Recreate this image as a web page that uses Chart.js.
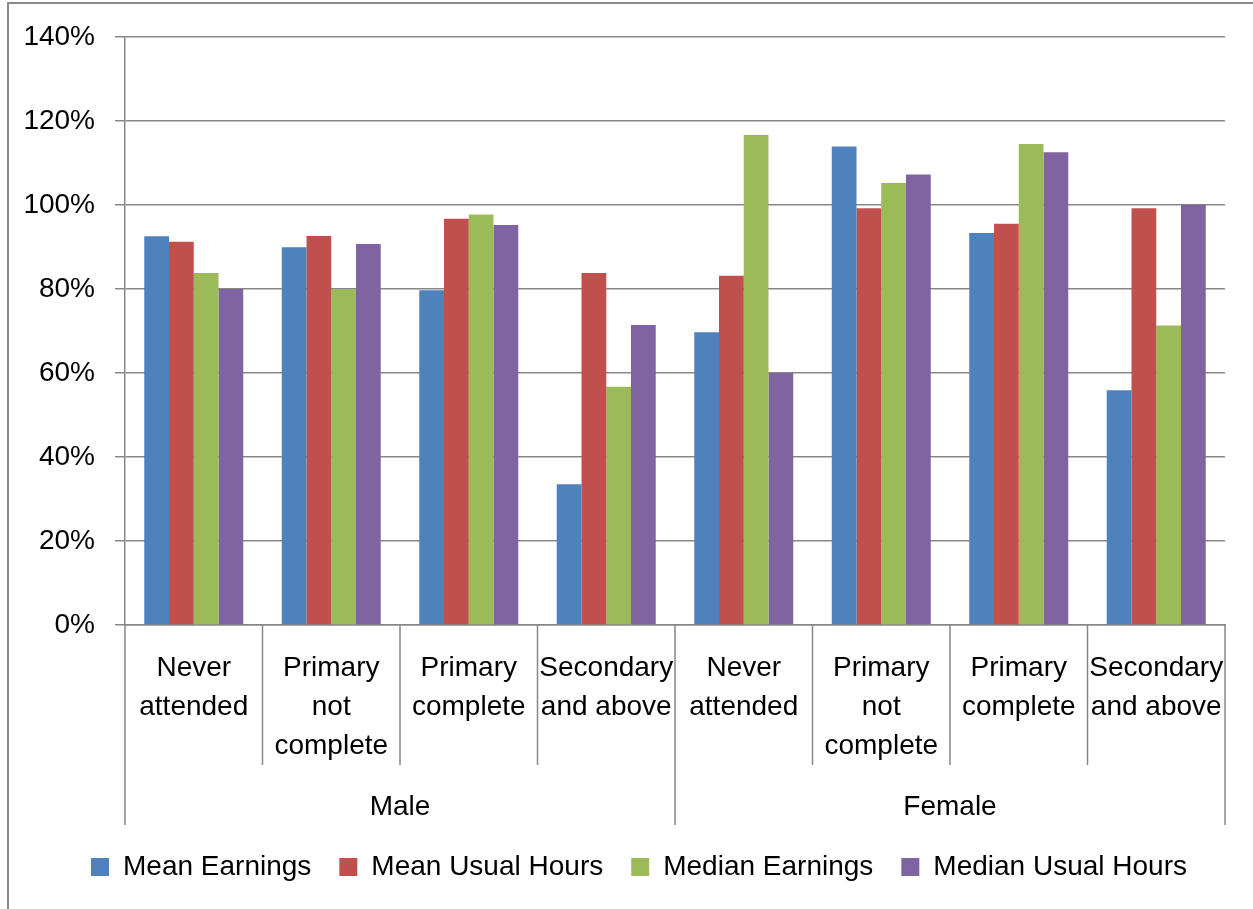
<!DOCTYPE html>
<html>
<head>
<meta charset="utf-8">
<script src="https://cdn.jsdelivr.net/npm/chart.js@4/dist/chart.umd.min.js"></script>
<style>
  html, body { margin:0; padding:0; background:#fff; overflow:hidden; }
  #wrap { position:absolute; left:0; top:0; width:1253px; height:909px; }
  #frame { position:absolute; left:7px; top:2px; width:1300px; height:1000px; border:2px solid #8a8a8a; box-sizing:border-box; }
</style>
</head>
<body>
<div id="frame"></div>
<div id="wrap"><canvas id="c" width="1253" height="909"></canvas></div>
<script>
const groups = ['Male', 'Female'];
const subcategories = [
  ['Never', 'attended'],
  ['Primary', 'not', 'complete'],
  ['Primary', 'complete'],
  ['Secondary', 'and above']
];
const xLabels = groups.flatMap(() => subcategories);
const seriesNames = ['Mean Earnings', 'Mean Usual Hours', 'Median Earnings', 'Median Usual Hours'];
const meanEarnings     = [92.5, 89.9, 79.7, 33.5, 69.7, 113.9, 93.3, 55.9];
const meanUsualHours   = [91.2, 92.6, 96.7, 83.8, 83.1, 99.2, 95.5, 99.2];
const medianEarnings   = [83.8, 80.0, 97.7, 56.7, 116.6, 105.2, 114.5, 71.3];
const medianUsualHours = [80.0, 90.7, 95.2, 71.4, 60.0, 107.2, 112.5, 100.0];
const colors = ['#4F81BD', '#C0504D', '#9BBB59', '#8064A2'];

const FONT = "'Liberation Sans', Arial, sans-serif";
const GRID = '#878787';

const separators = {
  id: 'separators',
  afterDraw(chart) {
    const x = chart.scales.x, x2 = chart.scales.x2;
    const ctx = chart.ctx;
    const n = xLabels.length;
    const per = subcategories.length;
    const step = x.getPixelForValue(1) - x.getPixelForValue(0);
    ctx.save();
    ctx.strokeStyle = GRID;
    ctx.lineWidth = 1.5;
    for (let i = 0; i <= n; i++) {
      const px = x.getPixelForValue(0) - step / 2 + i * step;
      const major = i % per === 0;
      ctx.beginPath();
      ctx.moveTo(px, x.top);
      ctx.lineTo(px, major ? x2.bottom : x.bottom);
      ctx.stroke();
    }
    ctx.restore();
  }
};

new Chart(document.getElementById('c'), {
  type: 'bar',
  data: {
    labels: xLabels,
    datasets: [meanEarnings, meanUsualHours, medianEarnings, medianUsualHours].map((d, i) => ({
      label: seriesNames[i],
      data: d,
      backgroundColor: colors[i],
      borderWidth: 0,
      barPercentage: 1.0,
      categoryPercentage: 0.72
    }))
  },
  options: {
    responsive: false,
    animation: false,
    devicePixelRatio: 1,
    layout: { padding: { top: 35, left: 25, right: 0, bottom: 18 } },
    plugins: {
      tooltip: { enabled: false },
      legend: {
        position: 'bottom',
        labels: {
          boxWidth: 18, boxHeight: 18, padding: 28,
          color: '#000',
          font: { family: FONT, size: 28 }
        }
      }
    },
    scales: {
      x: {
        weight: 0,
        grid: { display: false },
        border: { display: true, color: GRID, width: 1.5 },
        ticks: {
          color: '#000', font: { family: FONT, size: 28, lineHeight: 1.39 },
          maxRotation: 0, minRotation: 0, autoSkip: false, padding: 16
        },
        afterFit(s) { s.height = 140; }
      },
      x2: {
        type: 'category',
        labels: groups,
        offset: true,
        position: 'bottom',
        weight: 1,
        grid: { display: false },
        border: { display: false },
        ticks: { color: '#000', font: { family: FONT, size: 28 }, maxRotation: 0, autoSkip: false, padding: 17 },
        afterFit(s) { s.height = 60; }
      },
      y: {
        min: 0, max: 140,
        grid: { color: GRID, lineWidth: 1.5, tickLength: 10 },
        border: { display: true, color: GRID, width: 1.5 },
        ticks: {
          stepSize: 20, padding: 20, color: '#000',
          font: { family: FONT, size: 28 },
          callback: v => v + '%'
        },
        afterFit(s) { s.width = 100; }
      },
      yR: {
        position: 'right',
        display: true,
        grid: { display: false },
        border: { display: false },
        ticks: { display: false },
        afterFit(s) { s.width = 28; }
      }
    }
  },
  plugins: [separators]
});
</script>
</body>
</html>
